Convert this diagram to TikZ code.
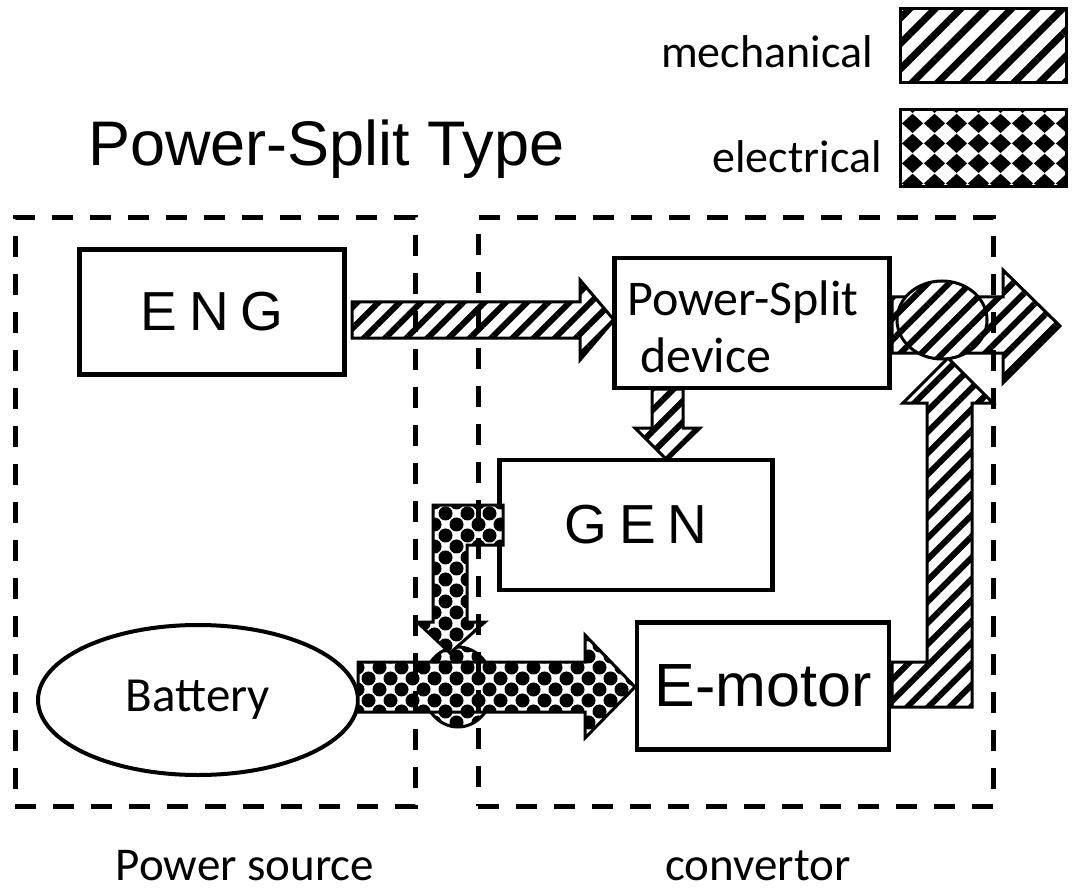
\documentclass[tikz,border=0pt]{standalone}
\usepackage{fontspec}
\setmainfont{Carlito}
\newfontfamily\arialf{Liberation Sans}
\usetikzlibrary{patterns,patterns.meta,shapes.geometric}

\pgfdeclarepatternformonly{elecballs}{\pgfqpoint{-2pt}{-2pt}}{\pgfqpoint{24pt}{24pt}}{\pgfqpoint{22pt}{22pt}}{%
  \pgfpathcircle{\pgfqpoint{5.5pt}{5.5pt}}{7pt}%
  \pgfpathcircle{\pgfqpoint{16.5pt}{16.5pt}}{7pt}%
  \pgfusepath{fill}}
\pgfdeclarepatternformonly{elecdiam}{\pgfpointorigin}{\pgfqpoint{22pt}{20pt}}{\pgfqpoint{22pt}{20pt}}{%
  \pgfpathmoveto{\pgfqpoint{11pt}{0pt}}%
  \pgfpathlineto{\pgfqpoint{22pt}{10pt}}%
  \pgfpathlineto{\pgfqpoint{11pt}{20pt}}%
  \pgfpathlineto{\pgfqpoint{0pt}{10pt}}%
  \pgfpathclose\pgfusepath{fill}}

\tikzset{
  box/.style={draw, line width=4.5pt, rectangle, inner sep=0pt},
  mech/.style={draw, line width=3pt, preaction={fill=white},
    pattern={Lines[angle=45,distance=15pt,line width=6pt]}},
  elec/.style={draw, line width=3pt, preaction={fill=white}, pattern=elecballs},
  dashbox/.style={draw, line width=5pt, dash pattern=on 21pt off 17pt, rectangle, inner sep=0pt},
  txt/.style={inner sep=0pt},
  arialbig/.style={font=\arialf\fontsize{55}{62}\selectfont},
  cal/.style={font=\fontsize{46}{58}\selectfont},
}

\begin{document}
\begin{tikzpicture}[x=1pt,y=-1pt]
\useasboundingbox (0,0) rectangle (1076,893);

% title and legend
\node[txt, anchor=base west, font=\arialf\fontsize{63}{70}\selectfont] (title) at (88,166) {Power-Split Type};
\node[txt, cal, anchor=base east] (tmech) at (873,68) {mechanical};
\node[txt, cal, anchor=base east] (telec) at (882,173) {electrical};
\node[draw, line width=3pt, inner sep=0pt, minimum width=166pt, minimum height=74pt,
  preaction={fill=white}, pattern={Lines[angle=45,distance=18pt,line width=7pt]}] (legm) at (983,46) {};
\node[draw, line width=3pt, inner sep=0pt, minimum width=166pt, minimum height=77pt,
  preaction={fill=white}, pattern=elecdiam] (lege) at (983,148.5) {};

% blocks
\node[box, arialbig, minimum width=265pt, minimum height=125pt] (eng) at (212,312) {E\hspace{0.22em}N\hspace{0.22em}G};
\node[box, minimum width=275pt, minimum height=130pt] (psd) at (752,323) {};
\node[txt, font=\fontsize{50}{58}\selectfont, anchor=base west] (psdt1) at (627,316) {Power-Split};
\node[txt, font=\fontsize{50}{58}\selectfont, anchor=base west] (psdt2) at (640,372) {device};
\node[box, arialbig, minimum width=273pt, minimum height=130pt] (gen) at (636,525) {G\hspace{0.22em}E\hspace{0.22em}N};
\node[box, font=\arialf\fontsize{61}{66}\selectfont, minimum width=252pt, minimum height=127pt] (emot) at (763,686) {E-motor};
\node[draw, ellipse, line width=4pt, inner sep=0pt, font=\fontsize{49}{58}\selectfont, minimum width=320pt, minimum height=150pt] (bat) at (198,700) {Battery};

% mechanical flows
\draw[mech] (352,302) -- (580,302) -- (580,280) -- (614,320) -- (580,360) -- (580,338) -- (352,338) -- cycle;
\draw[mech] (652,389) -- (652,428) -- (635,428) -- (667,460) -- (700,428) -- (683,428) -- (683,389) -- cycle;
\draw[mech] (892,297) -- (1003,297) -- (1003,270) -- (1060,326) -- (1003,383) -- (1003,353) -- (892,353) -- cycle;
\draw[mech] (892,662) -- (927,662) -- (927,403) -- (903,403) -- (948,358) -- (993,403) -- (972,403) -- (972,707) -- (892,707) -- cycle;
\node[mech, ellipse, inner sep=0pt, minimum width=90pt, minimum height=78pt] (jm) at (942,320) {};

% electrical flows
\node[elec, ellipse, inner sep=0pt, minimum width=70pt, minimum height=80pt] (je) at (458,687) {};
\draw[elec] (503,505) -- (433,505) -- (433,622) -- (417,622) -- (450,653) -- (485,622) -- (467,622) -- (467,545) -- (503,545) -- cycle;
\draw[elec] (358,662) -- (585,662) -- (585,635) -- (635,687) -- (585,738) -- (585,712) -- (358,712) -- cycle;

% dashed groups
\node[dashbox, minimum width=400pt, minimum height=588pt] (src) at (215,512) {};
\node[dashbox, minimum width=515pt, minimum height=588pt] (conv) at (735.5,512) {};

\node[txt, font=\fontsize{47}{58}\selectfont, anchor=base] (tsrc) at (245,880) {Power source};
\node[txt, font=\fontsize{47}{58}\selectfont, anchor=base] (tconv) at (758,880) {convertor};
\end{tikzpicture}
\end{document}
